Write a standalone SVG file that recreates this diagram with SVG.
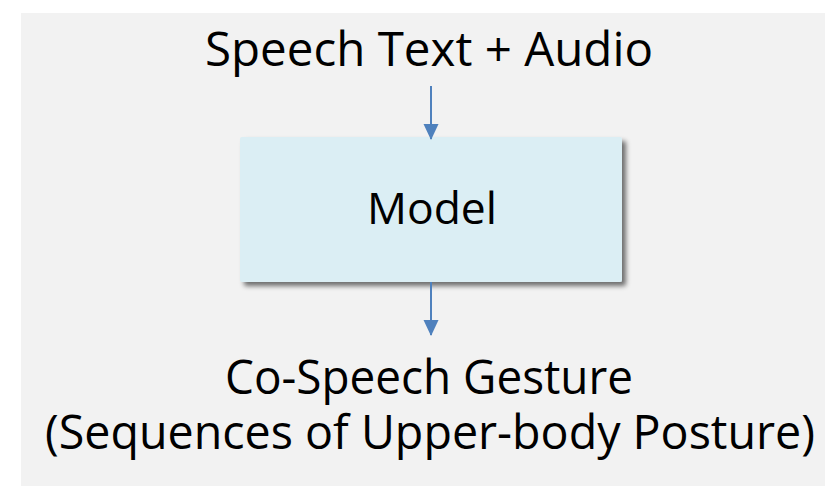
<svg xmlns="http://www.w3.org/2000/svg" width="825" height="486" viewBox="0 0 825 486">
  <style>
    .lbl { font-family: "Open Sans", "Noto Sans", sans-serif; fill: #000; text-anchor: middle; }
    .edge { stroke: #4f81bd; stroke-width: 2; fill: none; }
  </style>
  <defs>
    <marker id="arrow" markerWidth="16" markerHeight="16" refX="15" refY="8" orient="auto" markerUnits="userSpaceOnUse">
      <path d="M0,0.5 L16,8 L0,15.5 Z" fill="#4f81bd"/>
    </marker>
    <filter id="shadow" x="-10%" y="-10%" width="130%" height="140%">
      <feGaussianBlur in="SourceAlpha" stdDeviation="2.5"/>
      <feOffset dx="4" dy="4"/>
      <feComponentTransfer><feFuncA type="linear" slope="0.55"/></feComponentTransfer>
      <feMerge><feMergeNode/><feMergeNode in="SourceGraphic"/></feMerge>
    </filter>
  </defs>
  <rect x="0" y="0" width="825" height="486" fill="#ffffff"/>
  <rect x="21" y="13" width="804" height="473" fill="#f2f2f2"/>

  <g id="input">
    <text class="lbl" x="429" y="66" font-size="48" textLength="448" lengthAdjust="spacingAndGlyphs">Speech Text + Audio</text>
  </g>

  <g id="model">
    <rect x="240" y="137" width="382" height="145" rx="2" fill="#dbeef4" filter="url(#shadow)"/>
    <text class="lbl" x="432" y="224" font-size="44" textLength="130" lengthAdjust="spacingAndGlyphs">Model</text>
  </g>

  <g id="output">
    <text class="lbl" x="429" y="394" font-size="48" textLength="408" lengthAdjust="spacingAndGlyphs">Co-Speech Gesture</text>
    <text class="lbl" x="430" y="449" font-size="48" textLength="770" lengthAdjust="spacingAndGlyphs">(Sequences of Upper-body Posture)</text>
  </g>

  <g id="connectors">
    <line class="edge" x1="431" y1="86" x2="431" y2="139" marker-end="url(#arrow)"/>
    <line class="edge" x1="431" y1="282" x2="431" y2="335" marker-end="url(#arrow)"/>
  </g>
</svg>
